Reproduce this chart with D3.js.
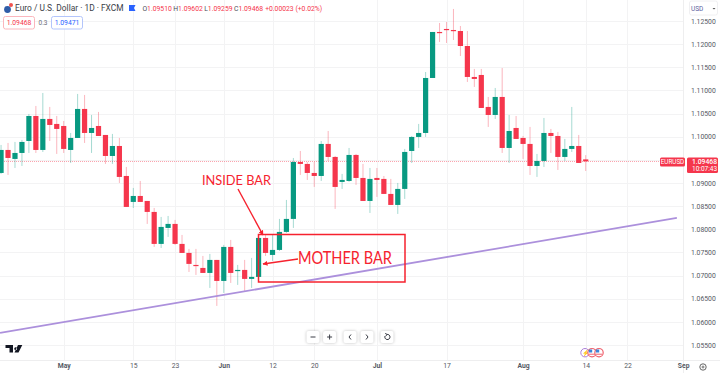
<!DOCTYPE html>
<html>
<head>
<meta charset="utf-8">
<script src="https://cdn.jsdelivr.net/npm/d3@7"></script>
<style>
html, body { margin: 0; padding: 0; background: #fff; overflow: hidden; }
text { font-family: Roboto, "Liberation Sans", sans-serif; }
</style>
</head>
<body>
<div id="chart-area"></div>
<script>
// Candles, daily, first one is index -9, May 1 is index 0
const firstIndex = -9;
const opens = [1.09217,1.09714,1.09520,1.09649,1.09908,1.10448,1.09714,1.10384,1.10276,1.10232,
  1.09714,1.09973,1.10600,1.10081,1.10232,1.10038,1.09584,1.09800,1.09152,1.08591,
  1.08720,1.08612,1.08375,1.07684,1.08029,1.08116,1.07684,1.07489,1.07230,1.07165,
  1.07057,1.07338,1.06884,1.07619,1.07100,1.07122,1.06928,1.06971,1.07813,1.07446,
  1.07554,1.07943,1.08224,1.09455,1.09412,1.09217,1.09152,1.09844,1.09563,1.09023,
  1.09044,1.09606,1.09109,1.08612,1.09109,1.09088,1.08764,1.08526,1.08872,1.09692,
  1.09995,1.10081,1.11269,1.12263,1.12328,1.12306,1.12284,1.11960,1.11291,1.11334,
  1.10643,1.10470,1.10859,1.09757,1.10189,1.09973,1.09844,1.09368,1.09476,1.10081,
  1.10016,1.09563,1.09736,1.09800,1.09510];
const highs = [1.09822,1.09865,1.09887,1.09930,1.10492,1.10664,1.10945,1.10643,1.10448,1.10340,
  1.10081,1.10924,1.10902,1.10470,1.10535,1.10038,1.10060,1.09973,1.09347,1.08893,
  1.09044,1.08612,1.08461,1.08267,1.08288,1.08202,1.07878,1.07576,1.07576,1.07424,
  1.07468,1.07338,1.07662,1.07770,1.07230,1.07338,1.07381,1.07878,1.07878,1.07878,
  1.08224,1.08634,1.09541,1.09692,1.09455,1.09455,1.09908,1.10124,1.09584,1.09196,
  1.09757,1.09628,1.09412,1.09325,1.09325,1.09152,1.09088,1.09001,1.09736,1.10016,
  1.10276,1.11398,1.12263,1.12457,1.12479,1.12760,1.12392,1.12284,1.11464,1.11464,
  1.10859,1.11053,1.11485,1.10470,1.10448,1.10016,1.10211,1.09628,1.10405,1.10168,
  1.10103,1.09952,1.10643,1.10038,1.09602];
const lows = [1.09196,1.09174,1.09325,1.09368,1.09649,1.09649,1.09671,1.09908,1.09628,1.09649,
  1.09433,1.09973,1.09865,1.09649,1.10016,1.09412,1.09412,1.09001,1.08483,1.08461,
  1.08591,1.08116,1.07619,1.07597,1.07835,1.07662,1.07489,1.07078,1.07014,1.07057,
  1.06733,1.06344,1.06625,1.06841,1.06798,1.06668,1.06733,1.06863,1.07424,1.07316,
  1.07532,1.07921,1.08029,1.09174,1.09066,1.08915,1.09044,1.09476,1.08440,1.08872,
  1.09023,1.08958,1.08612,1.08353,1.08699,1.08764,1.08526,1.08332,1.08656,1.09433,
  1.09757,1.09995,1.11269,1.12047,1.12025,1.12090,1.11744,1.11183,1.11075,1.10621,
  1.10211,1.10384,1.09649,1.09433,1.09952,1.09520,1.09174,1.09131,1.09347,1.09649,
  1.09282,1.09476,1.09671,1.09433,1.09259];
const closes = [1.09714,1.09541,1.09649,1.09887,1.10448,1.09714,1.10384,1.10254,1.10168,1.09736,
  1.09973,1.10600,1.10081,1.10189,1.10016,1.09584,1.09800,1.09131,1.08483,1.08720,
  1.08591,1.08375,1.07684,1.08051,1.08116,1.07684,1.07489,1.07252,1.07208,1.07057,
  1.07338,1.06884,1.07619,1.07057,1.07122,1.06928,1.06971,1.07813,1.07489,1.07554,
  1.07943,1.08224,1.09455,1.09412,1.09217,1.09152,1.09844,1.09563,1.08915,1.09066,
  1.09606,1.09109,1.08612,1.09088,1.09066,1.08764,1.08526,1.08872,1.09671,1.09995,
  1.10081,1.11269,1.12263,1.12241,1.12306,1.12284,1.11960,1.11291,1.11248,1.10621,
  1.10470,1.10859,1.09757,1.10124,1.09952,1.09844,1.09368,1.09476,1.10081,1.10016,
  1.09563,1.09736,1.09800,1.09433,1.09468];

// Axes
const priceTicks = [1.055,1.06,1.065,1.07,1.075,1.08,1.085,1.09,1.095,1.10,1.105,1.11,1.115,1.12,1.125];
const timeTicks = [0,10,16,23,30,36,45,55,66,75,81,89];
const timeLabels = ['May','15','23','Jun','12','20','Jul','17','Aug','14','22','Sep'];
const monthLabels = ['May','Jun','Jul','Aug','Sep'];

// Trend line, ends as bar index and price
const trendIndex = [-9.15, 88.1];
const trendPrice = [1.05761, 1.08245];

const lastPrice = 1.09468;

const width = 720;
const height = 373;
const paneRight = 683;
const paneBottom = 360;
const green = '#089981';
const red = '#f5364c';

const x = d3.scaleLinear().domain([0, 75]).range([63.7, 585.7]);
const y = d3.scaleLinear().domain([1.055, 1.125]).range([345, 21]);

const svg = d3.select('#chart-area')
    .append('svg')
    .attr('width', width)
    .attr('height', height)
    .style('display', 'block');

// Grid
svg.append('g').selectAll('line')
    .data(priceTicks)
    .enter().append('line')
    .attr('x1', 0).attr('x2', paneRight)
    .attr('y1', (d) => Math.round(y(d)) + 0.5)
    .attr('y2', (d) => Math.round(y(d)) + 0.5)
    .attr('stroke', '#f3f3f4');

svg.append('g').selectAll('line')
    .data(timeTicks)
    .enter().append('line')
    .attr('y1', 0).attr('y2', paneBottom)
    .attr('x1', (d) => Math.round(x(d)) + 0.5)
    .attr('x2', (d) => Math.round(x(d)) + 0.5)
    .attr('stroke', '#f3f3f4');

// Axis borders
svg.append('line').attr('x1', paneRight + 0.5).attr('x2', paneRight + 0.5)
    .attr('y1', 0).attr('y2', height).attr('stroke', '#eeeeef');
svg.append('line').attr('x1', 0).attr('x2', width)
    .attr('y1', paneBottom + 0.5).attr('y2', paneBottom + 0.5).attr('stroke', '#eeeeef');

// Last price line
svg.append('line')
    .attr('x1', 0).attr('x2', 660)
    .attr('y1', Math.round(y(lastPrice)) + 0.5)
    .attr('y2', Math.round(y(lastPrice)) + 0.5)
    .attr('stroke', red)
    .attr('stroke-opacity', 0.45)
    .attr('stroke-dasharray', '1 1');

// Candles
const candles = opens.map((o, i) => {
    return { i: firstIndex + i, o: o, h: highs[i], l: lows[i], c: closes[i] };
});
const color = (d) => (d.c >= d.o ? green : red);

svg.append('g').selectAll('line')
    .data(candles)
    .enter().append('line')
    .attr('x1', (d) => x(d.i)).attr('x2', (d) => x(d.i))
    .attr('y1', (d) => y(d.h)).attr('y2', (d) => y(d.l))
    .attr('stroke', color)
    .attr('stroke-opacity', 0.36)
    .attr('stroke-width', 1);

svg.append('g').selectAll('rect')
    .data(candles)
    .enter().append('rect')
    .attr('x', (d) => x(d.i) - 2.6)
    .attr('width', 5.2)
    .attr('y', (d) => y(Math.max(d.o, d.c)))
    .attr('height', (d) => Math.max(1.2, Math.abs(y(d.o) - y(d.c))))
    .attr('fill', color);

// Trend line
svg.append('line')
    .attr('x1', x(trendIndex[0])).attr('x2', x(trendIndex[1]))
    .attr('y1', y(trendPrice[0])).attr('y2', y(trendPrice[1]))
    .attr('stroke', '#ac90dc')
    .attr('stroke-width', 1.8);

// Price axis
const yAxisCall = d3.axisRight(y)
    .tickValues(priceTicks)
    .tickFormat(d3.format('.5f'))
    .tickSize(0)
    .tickPadding(0);
const yAxis = svg.append('g')
    .attr('transform', 'translate(691, 0)')
    .call(yAxisCall);
yAxis.select('.domain').remove();
yAxis.selectAll('text')
    .attr('font-size', '6.8px')
    .attr('fill', '#555963');

// Time axis
const xAxisCall = d3.axisBottom(x)
    .tickValues(timeTicks)
    .tickFormat((d, i) => timeLabels[i])
    .tickSize(0)
    .tickPadding(0);
const xAxis = svg.append('g')
    .attr('transform', 'translate(0, ' + (paneBottom + 3) + ')')
    .call(xAxisCall);
xAxis.select('.domain').remove();
xAxis.selectAll('text')
    .attr('font-size', '6.8px')
    .attr('fill', '#555963')
    .attr('font-weight', (d, i) => (monthLabels.includes(timeLabels[i]) ? 700 : 400));

// Last price labels
svg.append('rect').attr('x', 660).attr('y', 157.5).attr('width', 25).attr('height', 9)
    .attr('rx', 1.5).attr('fill', red);
svg.append('text').attr('x', 672.5).attr('y', 164.2).attr('text-anchor', 'middle')
    .attr('font-size', '6.3px').attr('fill', '#fff').text('EURUSD');
svg.append('rect').attr('x', 687).attr('y', 157.5).attr('width', 31).attr('height', 15.5)
    .attr('rx', 1.5).attr('fill', red);
svg.append('text').attr('x', 692).attr('y', 164).attr('font-size', '6.8px').attr('font-weight', 500)
    .attr('fill', '#fff').text(d3.format('.5f')(lastPrice));
svg.append('text').attr('x', 692).attr('y', 171).attr('font-size', '6.5px')
    .attr('fill', '#fff').text('10:07:43');

// Header
svg.append('circle').attr('cx', 7.5).attr('cy', 9.5).attr('r', 3.4).attr('fill', '#2f5da8');
svg.append('circle').attr('cx', 11).attr('cy', 5).attr('r', 2).attr('fill', '#ef5350');
svg.append('text').attr('x', 15).attr('y', 11.2).attr('font-size', '8.4px').attr('fill', '#3a3d46')
    .text('Euro / U.S. Dollar · 1D · FXCM');
svg.append('path').attr('d', 'M129 5h6.5l-1.5 3 1.5 3H129z').attr('fill', '#2962ff');

const ohlc = svg.append('text').attr('x', 141).attr('y', 11).attr('font-size', '6.8px').attr('fill', red);
[['O', '1.09510'], ['H', '1.09602'], ['L', '1.09259'], ['C', '1.09468']].forEach((p) => {
    ohlc.append('tspan').attr('fill', '#4a4d57').attr('dx', 1.4).text(p[0]);
    ohlc.append('tspan').text(p[1]);
});
ohlc.append('tspan').attr('dx', 2).text('+0.00023 (+0.02%)');

svg.append('rect').attr('x', 3.5).attr('y', 16.5).attr('width', 31).attr('height', 12.5).attr('rx', 2)
    .attr('fill', '#fff').attr('stroke', '#fbb6bd');
svg.append('text').attr('x', 19).attr('y', 25.3).attr('text-anchor', 'middle').attr('font-size', '6.8px')
    .attr('fill', red).text('1.09468');
svg.append('text').attr('x', 43).attr('y', 25.3).attr('text-anchor', 'middle').attr('font-size', '6.5px')
    .attr('fill', '#6a6d78').text('0.3');
svg.append('rect').attr('x', 51.5).attr('y', 16.5).attr('width', 31).attr('height', 12.5).attr('rx', 2)
    .attr('fill', '#fff').attr('stroke', '#b3c5fb');
svg.append('text').attr('x', 67).attr('y', 25.3).attr('text-anchor', 'middle').attr('font-size', '6.8px')
    .attr('fill', '#2962ff').text('1.09471');

// Currency box
svg.append('rect').attr('x', 689.5).attr('y', 1).attr('width', 28).attr('height', 14).attr('rx', 2)
    .attr('fill', '#fff').attr('stroke', '#f0f0f2');
svg.append('text').attr('x', 691).attr('y', 10.5).attr('font-size', '6.5px').attr('fill', '#5b5f9e').text('USD');
svg.append('path').attr('d', 'M712.5 8h3l-1.5 1.6z').attr('fill', '#555');

// Pane buttons
const buttons = [313, 329.6, 350, 367, 387];
const btn = svg.append('g').selectAll('g')
    .data(buttons)
    .enter().append('g')
    .attr('transform', (d) => 'translate(' + d + ', 337)');
btn.append('rect').attr('x', -6.5).attr('y', -6).attr('width', 13).attr('height', 12).attr('rx', 2)
    .attr('fill', '#fff').style('filter', 'drop-shadow(0 0.5px 1.5px rgba(0,0,0,0.25))');
btn.append('path')
    .attr('d', (d, i) => ['M-2.5 0H2.5', 'M-2.5 0H2.5M0 -2.5V2.5', 'M1 -2.5L-1 0L1 2.5', 'M-1 -2.5L1 0L-1 2.5',
        'M-2 -1A2.6 2.6 0 1 0 0 -2.6M0 -2.6L-1.8 -3.6M0 -2.6L-1.2 -0.8'][i])
    .attr('fill', 'none').attr('stroke', '#3a3d46').attr('stroke-width', 1);

// TV logo
svg.append('path').attr('d', 'M5.5 345H13V352.5H9.5V348H5.5ZM15.6 347.3A1.4 1.4 0 1 0 15.7 347.3ZM18 345H22.3L18.5 352.5H14.5Z')
    .attr('fill', '#131722');

// Event icons
svg.append('circle').attr('cx', 585).attr('cy', 352.7).attr('r', 4.2).attr('fill', '#fff')
    .attr('stroke', '#ab7ed8');
svg.append('text').attr('x', 585).attr('y', 355).attr('text-anchor', 'middle').attr('font-size', '6px')
    .attr('fill', '#9c5cc9').text('⚡');
[592, 599].forEach((cx) => {
    svg.append('circle').attr('cx', cx).attr('cy', 352.7).attr('r', 4.2).attr('fill', '#fff')
        .attr('stroke', '#f0616d').attr('stroke-width', 1.2);
    svg.append('rect').attr('x', cx - 3.2).attr('y', 349.5).attr('width', 3.4).attr('height', 3)
        .attr('fill', '#3d85d8');
    svg.append('path').attr('d', 'M' + (cx - 3) + ' 354.2H' + (cx + 3)).attr('stroke', '#f0616d');
});

// Settings icon
svg.append('circle').attr('cx', 703).attr('cy', 367).attr('r', 3.2).attr('fill', 'none').attr('stroke', '#555').attr('stroke-width', 0.9);
svg.append('circle').attr('cx', 703).attr('cy', 367).attr('r', 1).attr('fill', 'none').attr('stroke', '#555').attr('stroke-width', 0.8);

// Annotations
const mark = '#f6222e';
svg.append('defs').append('marker')
    .attr('id', 'head')
    .attr('viewBox', '0 0 10 10').attr('refX', 9).attr('refY', 5)
    .attr('markerWidth', 5).attr('markerHeight', 5)
    .attr('markerUnits', 'userSpaceOnUse')
    .attr('orient', 'auto')
    .append('path').attr('d', 'M0 0L10 5L0 10Z').attr('fill', mark);

svg.append('text').attr('x', 202).attr('y', 184.5).attr('font-size', '13.5px').attr('fill', mark)
    .attr('textLength', 69).attr('lengthAdjust', 'spacingAndGlyphs')
    .style('font-family', 'Lato, sans-serif').text('INSIDE BAR');
svg.append('line').attr('x1', 238).attr('y1', 189).attr('x2', 263).attr('y2', 235)
    .attr('stroke', mark).attr('stroke-width', 1.4).attr('marker-end', 'url(#head)');
svg.append('rect').attr('x', 258.5).attr('y', 234.5).attr('width', 146.5).attr('height', 47.5)
    .attr('fill', 'none').attr('stroke', mark).attr('stroke-width', 1.5);
svg.append('text').attr('x', 298).attr('y', 264).attr('font-size', '17px').attr('fill', mark)
    .attr('textLength', 94).attr('lengthAdjust', 'spacingAndGlyphs')
    .style('font-family', 'Lato, sans-serif').text('MOTHER BAR');
svg.append('line').attr('x1', 298).attr('y1', 259).attr('x2', 263).attr('y2', 264)
    .attr('stroke', mark).attr('stroke-width', 1.4).attr('marker-end', 'url(#head)');
</script>
</body>
</html>
